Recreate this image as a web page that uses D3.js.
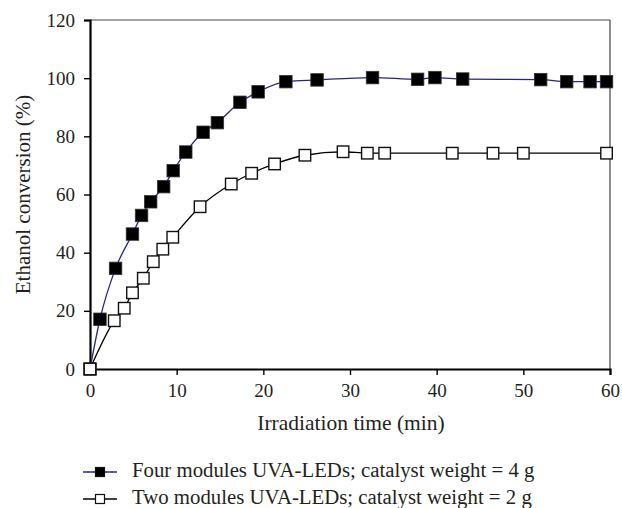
<!DOCTYPE html>
<html><head><meta charset="utf-8">
<script src="https://cdn.jsdelivr.net/npm/d3@7"></script>
<style>body{margin:0;background:#fff}svg{display:block}text{font-family:"Liberation Serif","DejaVu Serif",serif;fill:#231f20}</style>
</head><body><svg id="c" width="622" height="508"></svg>
<script>
const fourTime = [0, 1.15, 2.95, 4.9, 5.95, 7.0, 8.5, 9.6, 11.05, 13.05, 14.7, 17.3, 19.4, 22.6, 26.2, 32.6, 37.8, 39.8, 43.0, 52.0, 55.0, 57.7, 59.6];
const fourConv = [0, 17.1, 34.6, 46.4, 52.8, 57.5, 62.7, 68.2, 74.6, 81.4, 84.7, 91.7, 95.3, 98.8, 99.4, 100.2, 99.6, 100.2, 99.7, 99.5, 98.8, 98.8, 98.8];
const twoTime = [0, 2.8, 3.95, 4.9, 6.15, 7.3, 8.4, 9.55, 12.7, 16.3, 18.65, 21.3, 24.8, 29.2, 32.0, 34.0, 41.8, 46.5, 50.0, 59.6];
const twoConv = [0, 16.6, 20.9, 26.2, 31.2, 36.9, 41.2, 45.3, 55.8, 63.6, 67.3, 70.5, 73.5, 74.7, 74.2, 74.2, 74.2, 74.2, 74.2, 74.2];
const xTicks = [0, 10, 20, 30, 40, 50, 60];
const yTicks = [0, 20, 40, 60, 80, 100, 120];
const seriesNames = ["Four modules UVA-LEDs; catalyst weight = 4 g", "Two modules UVA-LEDs; catalyst weight = 2 g"];
const xTitle = "Irradiation time (min)";
const yTitle = "Ethanol conversion (%)";

const svg = d3.select("#c");
const L = 90, R = 610, T = 20, B = 369;
const x = d3.scaleLinear().domain([0, 60]).range([L, R]);
const y = d3.scaleLinear().domain([0, 120]).range([B, T]);

// top/right frame
svg.append("line").attr("x1", L).attr("x2", R).attr("y1", T).attr("y2", T).attr("stroke", "#444").attr("stroke-width", 1.2);
svg.append("line").attr("x1", R).attr("x2", R).attr("y1", T).attr("y2", B).attr("stroke", "#444").attr("stroke-width", 1.2);

const xa = svg.append("g").attr("transform", `translate(0,${B})`)
  .call(d3.axisBottom(x).tickValues(xTicks).tickSize(6).tickPadding(9).tickFormat(d3.format("d")));
const ya = svg.append("g").attr("transform", `translate(${L},0)`)
  .call(d3.axisLeft(y).tickValues(yTicks).tickSize(6).tickPadding(9).tickFormat(d3.format("d")));
[xa, ya].forEach(g => {
  g.select(".domain").attr("stroke", "#000").attr("stroke-width", 2.2);
  g.selectAll(".tick line").attr("stroke", "#000").attr("stroke-width", 1.4);
  g.selectAll("text").attr("font-size", 19).attr("fill", "#231f20").attr("font-family", '"Liberation Serif", serif');
});

svg.append("text").attr("x", (L + R) / 2 + 1).attr("y", 430).attr("text-anchor", "middle").attr("font-size", 21.5).text(xTitle);
svg.append("text").attr("transform", `translate(30,${(T + B) / 2}) rotate(-90)`).attr("text-anchor", "middle").attr("font-size", 21).text(yTitle);

const four = fourTime.map((t, i) => [t, fourConv[i]]);
const two = twoTime.map((t, i) => [t, twoConv[i]]);
const line = d3.line().x(d => x(d[0])).y(d => y(d[1])).curve(d3.curveMonotoneX);
const navy = "#262680";

svg.append("path").attr("d", line(four)).attr("fill", "none").attr("stroke", navy).attr("stroke-width", 1.3);
svg.append("path").attr("d", line(two)).attr("fill", "none").attr("stroke", "#000").attr("stroke-width", 1.3);

const s1 = 12.5, s2 = 11.5;
svg.append("g").selectAll("rect").data(four).join("rect")
  .attr("x", d => x(d[0]) - s1 / 2).attr("y", d => y(d[1]) - s1 / 2)
  .attr("width", s1).attr("height", s1).attr("fill", "#000").attr("stroke", "#333").attr("stroke-width", 0.8);
svg.append("g").selectAll("rect").data(two).join("rect")
  .attr("x", d => x(d[0]) - s2 / 2).attr("y", d => y(d[1]) - s2 / 2)
  .attr("width", s2).attr("height", s2).attr("fill", "#fff").attr("stroke", "#111").attr("stroke-width", 1.4);

// legend
const leg = [{c: navy, f: "#000", yy: 472}, {c: "#000", f: "#fff", yy: 499}];
leg.forEach((l, i) => {
  svg.append("line").attr("x1", 83).attr("x2", 117).attr("y1", l.yy).attr("y2", l.yy).attr("stroke", l.c).attr("stroke-width", 1.3);
  svg.append("rect").attr("x", 100 - 4.5).attr("y", l.yy - 4.5).attr("width", 9).attr("height", 9)
    .attr("fill", l.f).attr("stroke", "#111").attr("stroke-width", 1.2);
  svg.append("text").attr("x", 132).attr("y", l.yy + 4.5).attr("font-size", 20.8).text(seriesNames[i]);
});
</script></body></html>
